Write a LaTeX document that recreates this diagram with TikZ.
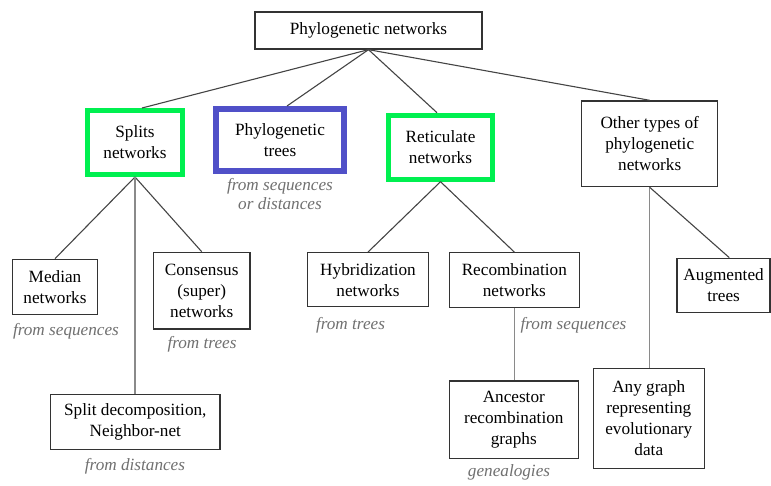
\documentclass[tikz,border=0pt]{standalone}
\usepackage{fontspec}
\setmainfont{Liberation Serif}
\definecolor{boxgreen}{HTML}{00F050}
\definecolor{boxblue}{HTML}{5050C8}
\definecolor{edgegray}{HTML}{333333}
\definecolor{linegray}{HTML}{444444}
\definecolor{vgray}{HTML}{8A8A8A}
\definecolor{labgray}{HTML}{707070}
\begin{document}
\begin{tikzpicture}[x=1pt,y=-1pt,
  every node/.style={font=\fontsize{17.2}{21}\selectfont, inner sep=0pt, align=center},
  plainbox/.style={draw=edgegray, line width=1.3pt, fill=white},
  greenbox/.style={draw=boxgreen, line width=5pt, fill=white},
  bluebox/.style={draw=boxblue, line width=6pt, fill=white},
  lab/.style={font=\fontsize{17.2}{19}\selectfont\itshape, text=labgray, anchor=base},
  conn/.style={draw=linegray, line width=1.1pt},
  vconn/.style={draw=vgray, line width=1.5pt}]
\useasboundingbox (0,0) rectangle (771,485);

% boxes
\node[plainbox, minimum width=227pt, minimum height=37pt] (top) at (368.5,30.5) {Phylogenetic networks};
\node[greenbox, minimum width=95pt, minimum height=64pt] (splits) at (135,142.5) {Splits\\networks};
\node[bluebox, minimum width=128pt, minimum height=62pt] (ptrees) at (280,140) {Phylogenetic\\trees};
\node[greenbox, minimum width=104pt, minimum height=64pt] (retic) at (440.5,147.2) {Reticulate\\networks};
\node[plainbox, minimum width=136pt, minimum height=85.7pt] (other) at (649.7,143.8) {Other types of\\phylogenetic\\networks};
\node[plainbox, minimum width=85.4pt, minimum height=55pt] (median) at (55,286.8) {Median\\networks};
\node[plainbox, minimum width=96.7pt, minimum height=76.7pt] (consensus) at (201.7,290.7) {Consensus\\(super)\\networks};
\node[plainbox, minimum width=169.3pt, minimum height=55pt] (splitdec) at (135.3,421.8) {Split decomposition,\\Neighbor-net};
\node[plainbox, minimum width=120.6pt, minimum height=54pt] (hybrid) at (368,279.7) {Hybridization\\networks};
\node[plainbox, minimum width=130pt, minimum height=54.6pt] (recomb) at (514.3,280) {Recombination\\networks};
\node[plainbox, minimum width=93pt, minimum height=54.4pt] (augmented) at (723.6,285.5) {Augmented\\trees};
\node[plainbox, minimum width=129pt, minimum height=77.3pt] (ancestor) at (513.8,419.7) {Ancestor\\recombination\\graphs};
\node[plainbox, minimum width=111pt, minimum height=100pt] (anygraph) at (648.8,418.3) {Any graph\\representing\\evolutionary\\data};

% labels
\node[lab] (lptreesA) at (280,190.6) {from sequences};
\node[lab] (lptreesB) at (280,209.2) {or distances};
\node[lab] (lmedian) at (66,335.6) {from sequences};
\node[lab] (lconsensus) at (202,348.2) {from trees};
\node[lab] (lsplitdec) at (135,470.6) {from distances};
\node[lab] (lhybrid) at (350.5,329) {from trees};
\node[lab] (lrecomb) at (573.5,329) {from sequences};
\node[lab] (lancestor) at (509,476.5) {genealogies};

% connectors
\draw[conn] (top.south) -- ([xshift=7pt]splits.north);
\draw[conn] (top.south) -- ([xshift=7pt]ptrees.north);
\draw[conn] (top.south) -- ([xshift=-3.5pt]retic.north);
\draw[conn] (top.south) -- (other.north);

\draw[conn] (splits.south) -- (median.north);
\draw[conn] (splits.south) -- (consensus.north);
\draw[vconn] (splits.south) -- (splits.south |- splitdec.north);

\draw[conn] (retic.south) -- (hybrid.north);
\draw[conn] (retic.south) -- (recomb.north);
\draw[vconn] (recomb.south) -- (recomb.south |- ancestor.north);

\draw[vconn] (other.south) -- (other.south |- anygraph.north);
\draw[conn] (other.south) -- ([xshift=5.7pt]augmented.north);
\end{tikzpicture}
\end{document}
